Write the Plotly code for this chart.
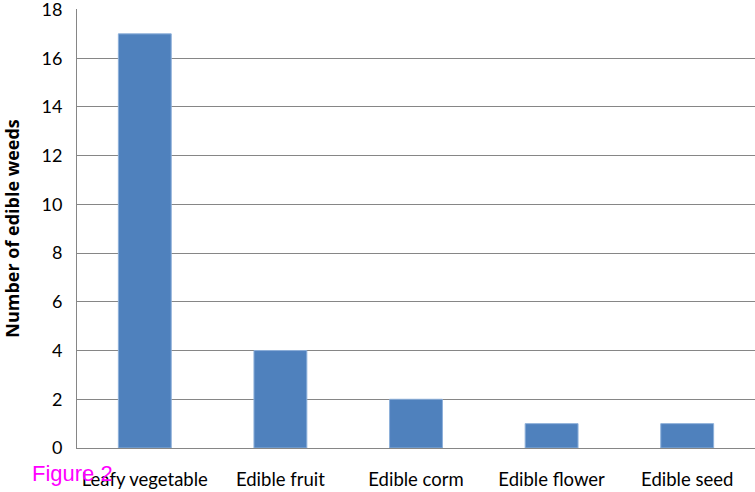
import plotly.graph_objects as go

categories = ["Leafy vegetable", "Edible fruit", "Edible corm", "Edible flower", "Edible seed"]
values = [17, 4, 2, 1, 1]
y_ticks = [0, 2, 4, 6, 8, 10, 12, 14, 16, 18]

fig = go.Figure(go.Bar(
    x=categories, y=values,
    marker=dict(color="#4F81BD", line=dict(color="#8DB0DA", width=1)),
))

fig.update_layout(
    width=755, height=492,
    margin=dict(l=77, r=0, t=9, b=44, autoexpand=False),
    paper_bgcolor="white", plot_bgcolor="white",
    bargap=0.61,
    showlegend=False,
    font=dict(family="Lato, Open Sans, sans-serif", size=18, color="black"),
    xaxis=dict(showline=True, linecolor="#868686", linewidth=1, ticks="",
               tickfont=dict(size=18.5), ticklabelstandoff=15, automargin=False),
    yaxis=dict(range=[0, 18.02], tickvals=y_ticks, showgrid=True, gridcolor="#868686",
               gridwidth=1, showline=True, linecolor="#868686", linewidth=1,
               ticks="", tickfont=dict(size=18), zeroline=False, automargin=False,
               ticklabelstandoff=10, ticklabeloverflow="allow",
               title=dict(text="<b>Number of edible weeds</b>",
                          font=dict(family="Open Sans", size=18), standoff=22)),
    annotations=[dict(text="Figure 2", xref="paper", yref="paper",
                      x=(30 - 77) / 678, y=-(473 - 448) / 439,
                      xanchor="left", yanchor="middle", showarrow=False,
                      font=dict(family="Liberation Sans, Arial", size=22, color="#FF00FF"))],
)
fig.write_html("out.html", config={"displayModeBar": False},
               post_script="document.body.style.margin='0';")
